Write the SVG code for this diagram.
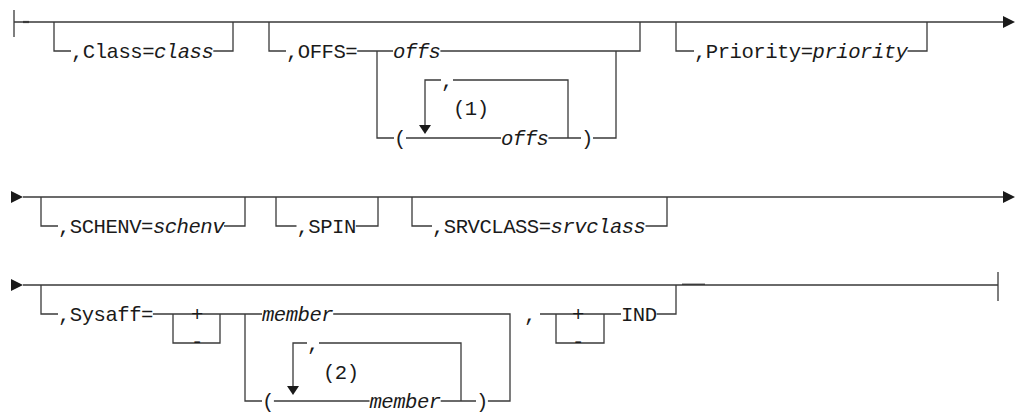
<svg xmlns="http://www.w3.org/2000/svg" width="1017" height="414" viewBox="0 0 1017 414">
<style>
.c{fill:none;stroke:#3a3a3a;stroke-width:1.3}
.a{fill:#1a1a1a;stroke:none}
text{font-family:"Liberation Mono","DejaVu Sans Mono",monospace;font-size:20.6px;letter-spacing:-0.5px;fill:#1a1a1a}
.i{font-style:italic}
</style>
<rect width="1017" height="414" fill="#fff"/>
<g id="connectors">
<!-- Row 1 -->
<path class="c" d="M14 10V37M14 22H1003"/>
<path class="c" d="M23 22H29" style="stroke-width:2.2"/>
<polygon class="a" points="1003,16 1015,22 1003,28"/>
<path class="c" d="M54 22V51H71M213.3 51H233V22"/>
<path class="c" d="M269 22V51H286M357.2 51H393M377 51V138H394M406 138H501M548.4 138H581M593 138H616V51M440.4 51H640V22"/>
<path class="c" d="M568 138V80H453M441 80H425V125"/>
<polygon class="a" points="419,125 431,125 425,134"/>
<path class="c" d="M676 22V51H694M907.5 51H927V22"/>
<!-- Row 2 -->
<polygon class="a" points="11,191 23,197 11,203"/>
<path class="c" d="M23 197H1003"/>
<polygon class="a" points="1003,191 1015,197 1003,203"/>
<path class="c" d="M41 197V226H58M224 226H245V197"/>
<path class="c" d="M276 197V226H296.5M355.8 226H378V197"/>
<path class="c" d="M412 197V226H432M645.5 226H667V197"/>
<!-- Row 3 -->
<polygon class="a" points="11,279 23,285 11,291"/>
<path class="c" d="M23 285H998M998 272V301"/>
<path class="c" d="M682 284.3H705" style="stroke-width:1.4"/>
<path class="c" d="M41 285V314H58M152.9 314H262M173 314V343H220V314"/>
<path class="c" d="M245 314V401H262M273.9 401H369.5M440.7 401H476M487.9 401H510V314H333.2"/>
<path class="c" d="M461 401V343H319M307 343H293V386"/>
<polygon class="a" points="287,386 299,386 293,395"/>
<path class="c" d="M540 314H621M556 314V343H604V314M656.6 314H676V285"/>
</g>
<g id="n-class"><text x="71" y="58">,Class=<tspan class="i">class</tspan></text></g>
<g id="n-offs-kw"><text x="286" y="58">,OFFS=</text></g>
<g id="n-offs-single"><text x="393" y="58" class="i">offs</text></g>
<g id="n-offs-lparen"><text x="394" y="145">(</text></g>
<g id="n-offs-list"><text x="501" y="145" class="i">offs</text></g>
<g id="n-offs-rparen"><text x="581" y="145">)</text></g>
<g id="n-offs-sep"><text x="441" y="87">,</text></g>
<g id="n-note1"><text x="453" y="115">(1)</text></g>
<g id="n-priority"><text x="694" y="58">,Priority=<tspan class="i">priority</tspan></text></g>
<g id="n-schenv"><text x="58" y="233">,SCHENV=<tspan class="i">schenv</tspan></text></g>
<g id="n-spin"><text x="296.5" y="233">,SPIN</text></g>
<g id="n-srvclass"><text x="432" y="233">,SRVCLASS=<tspan class="i">srvclass</tspan></text></g>
<g id="n-sysaff"><text x="58" y="321">,Sysaff=</text></g>
<g id="n-plus1"><text x="191" y="321">+</text></g>
<g id="n-minus1"><text x="191" y="347.5">-</text></g>
<g id="n-member"><text x="262" y="321" class="i">member</text></g>
<g id="n-mem-lparen"><text x="262" y="408">(</text></g>
<g id="n-member-list"><text x="369.5" y="408" class="i">member</text></g>
<g id="n-mem-rparen"><text x="476" y="408">)</text></g>
<g id="n-mem-sep"><text x="307" y="350">,</text></g>
<g id="n-note2"><text x="323" y="379">(2)</text></g>
<g id="n-comma"><text x="524" y="321">,</text></g>
<g id="n-plus2"><text x="572" y="321">+</text></g>
<g id="n-minus2"><text x="572" y="347.5">-</text></g>
<g id="n-ind"><text x="621" y="321">IND</text></g>
</svg>
